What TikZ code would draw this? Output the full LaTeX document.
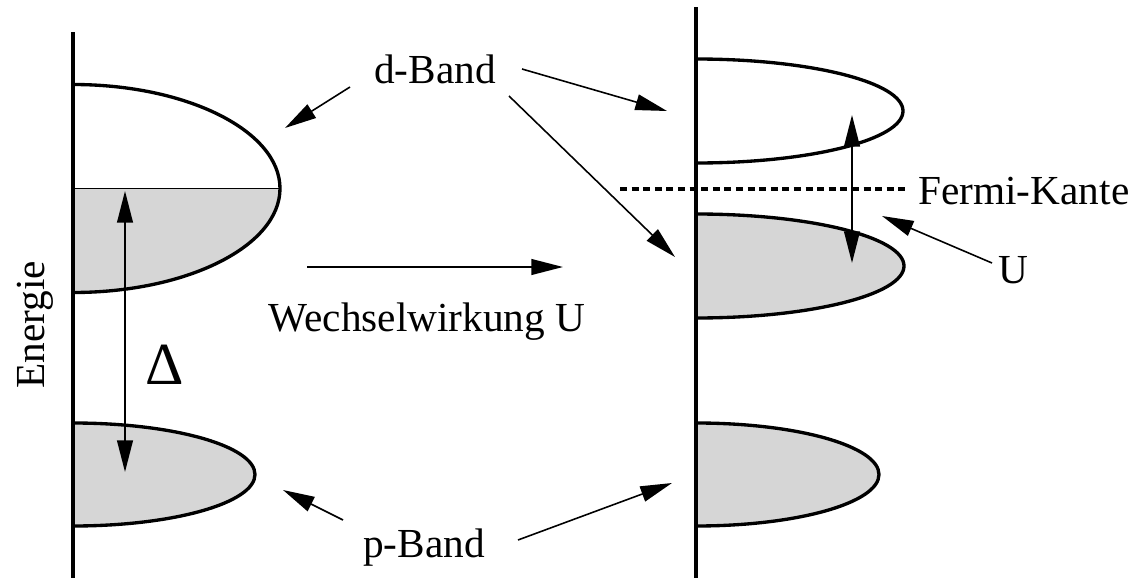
\documentclass[tikz,border=0pt]{standalone}
\usepackage{fontspec}
\setmainfont{Liberation Serif}
\usetikzlibrary{arrows.meta}
\definecolor{bandgray}{HTML}{D6D6D6}
\tikzset{
  axisline/.style={line width=2pt},
  bandline/.style={line width=1.9pt},
  arr/.style={line width=0.9pt,-{Triangle[length=18pt,width=9pt]}},
  darr/.style={line width=0.9pt,{Triangle[length=18pt,width=9pt]}-{Triangle[length=18pt,width=9pt]}},
  lbl/.style={font=\fontsize{23.5}{28}\selectfont, inner sep=0pt, anchor=base},
  fermi/.style={line width=1.9pt, dash pattern=on 4pt off 2.6pt}
}
\begin{document}
\begin{tikzpicture}[x=0.02cm,y=0.02cm]
\useasboundingbox (0,0) rectangle (1134,-578);
% ---- left column ----
% d-band (half filled)
\fill[bandgray] (73,-188.5) -- (280,-188.5) arc[start angle=0,end angle=-90,x radius=207,y radius=104] -- cycle;
\draw[line width=0.7pt] (73,-188.5) -- (280,-188.5);
\draw[bandline] (73,-84.5) arc[start angle=90,end angle=-90,x radius=207,y radius=104];
% p-band
\filldraw[bandline, fill=bandgray] (73,-423) arc[start angle=90,end angle=-90,x radius=182,y radius=51.5];
\draw[axisline] (73,-32) -- (73,-578);
% ---- right column ----
\draw[bandline] (696,-59) arc[start angle=90,end angle=-90,x radius=207,y radius=52];
\filldraw[bandline, fill=bandgray] (696,-214) arc[start angle=90,end angle=-90,x radius=208,y radius=52];
\filldraw[bandline, fill=bandgray] (696,-423) arc[start angle=90,end angle=-90,x radius=183,y radius=51.5];
\draw[axisline] (696,-7) -- (696,-578);
% Fermi edge
\coordinate (fermiL) at (620,-189);
\coordinate (fermiR) at (906,-189);
\node[lbl, anchor=base west] (fermi) at (918,-204) {Fermi-Kante};
\draw[fermi] (fermiL) -- (fermiR);
% ---- labels ----
\node[lbl, rotate=90] (energie) at (45,-325) {Energie};
\node[lbl, font=\fontsize{34}{40}\selectfont] (delta) at (165,-384) {Δ};
\node[lbl] (dband) at (435,-83) {d-Band};
\node[lbl] (pband) at (424,-557) {p-Band};
\node[lbl] (ww) at (427,-331) {Wechselwirkung U};
\node[lbl] (ulbl) at (1013,-283) {U};
% ---- coordinates for connectors ----
\coordinate (deltaTop) at (125,-191);
\coordinate (deltaBot) at (125,-472);
\coordinate (uTop) at (852,-115);
\coordinate (uBot) at (852,-263);
\coordinate (d1s) at (350,-87);   \coordinate (d1e) at (285,-128);
\coordinate (d2s) at (522,-69);   \coordinate (d2e) at (667,-111);
\coordinate (d3s) at (509,-96);   \coordinate (d3e) at (675,-257);
\coordinate (p1s) at (343,-520);  \coordinate (p1e) at (283,-490);
\coordinate (p2s) at (518,-540);  \coordinate (p2e) at (672,-483);
\coordinate (ws) at (307,-267);   \coordinate (we) at (563,-267);
\coordinate (us) at (992,-263);   \coordinate (ue) at (882,-216);
% ---- connectors ----
\draw[darr] (deltaTop) -- (deltaBot);
\draw[darr] (uTop) -- (uBot);
\draw[arr] (d1s) -- (d1e);
\draw[arr] (d2s) -- (d2e);
\draw[arr] (d3s) -- (d3e);
\draw[arr] (p1s) -- (p1e);
\draw[arr] (p2s) -- (p2e);
\draw[arr] (ws) -- (we);
\draw[arr] (us) -- (ue);
\end{tikzpicture}
\end{document}
